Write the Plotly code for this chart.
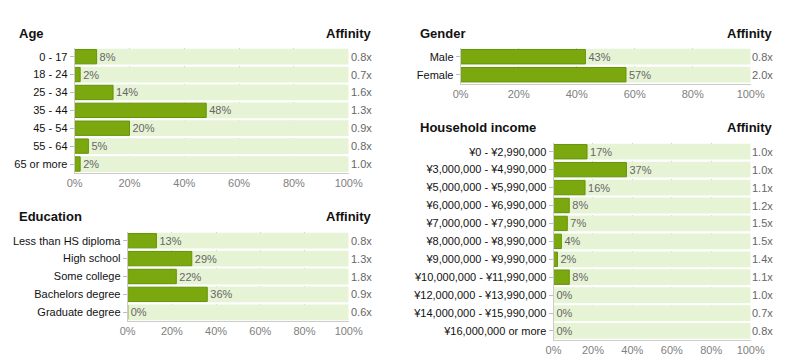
import plotly.graph_objects as go

# ---- data ----
age_cats = ["0 - 17", "18 - 24", "25 - 34", "35 - 44", "45 - 54", "55 - 64", "65 or more"]
age_pct = [8, 2, 14, 48, 20, 5, 2]
age_aff = ["0.8x", "0.7x", "1.6x", "1.3x", "0.9x", "0.8x", "1.0x"]

gender_cats = ["Male", "Female"]
gender_pct = [43, 57]
gender_aff = ["0.8x", "2.0x"]

edu_cats = ["Less than HS diploma", "High school", "Some college", "Bachelors degree", "Graduate degree"]
edu_pct = [13, 29, 22, 36, 0]
edu_aff = ["0.8x", "1.3x", "1.8x", "0.9x", "0.6x"]

inc_cats = ["¥0 - ¥2,990,000", "¥3,000,000 - ¥4,990,000", "¥5,000,000 - ¥5,990,000",
            "¥6,000,000 - ¥6,990,000", "¥7,000,000 - ¥7,990,000", "¥8,000,000 - ¥8,990,000",
            "¥9,000,000 - ¥9,990,000", "¥10,000,000 - ¥11,990,000", "¥12,000,000 - ¥13,990,000",
            "¥14,000,000 - ¥15,990,000", "¥16,000,000 or more"]
inc_pct = [17, 37, 16, 8, 7, 4, 2, 8, 0, 0, 0]
inc_aff = ["1.0x", "1.0x", "1.1x", "1.2x", "1.5x", "1.5x", "1.4x", "1.1x", "1.0x", "0.7x", "0.8x"]

tick_vals = [0, 20, 40, 60, 80, 100]
tick_text = ["0%", "20%", "40%", "60%", "80%", "100%"]

W, H = 800, 363
FONT = "Liberation Sans, Arial, sans-serif"
DARK = "#7aa80e"
DARK_LINE = "#66940a"
LIGHT = "#e6f3d5"

panels = [
    # title, cats, pct, aff, x0px, x1px, topPx, bottomPx, titleY, affX
    ("Age", age_cats, age_pct, age_aff, 74.7, 348.7, 47.75, 172.95, 33, 374),
    ("Gender", gender_cats, gender_pct, gender_aff, 460.7, 750.7, 47.7, 83.7, 33, 775),
    ("Education", edu_cats, edu_pct, edu_aff, 127.7, 348.7, 231.75, 321.25, 216, 374),
    ("Household income", inc_cats, inc_pct, inc_aff, 553.5, 750.7, 142.75, 339.95, 127, 775),
]
title_x = {"Age": 17, "Gender": 418, "Education": 17, "Household income": 418}

fig = go.Figure()
layout = dict(
    width=W, height=H, margin=dict(l=0, r=0, t=0, b=0, pad=0), autosize=False,
    paper_bgcolor="white", plot_bgcolor="white",
    showlegend=False, barmode="overlay", font=dict(family=FONT),
)
annotations = []
for i, (title, cats, pct, aff, x0, x1, top, bot, ty, ax) in enumerate(panels):
    n = i + 1
    xa = "x" if n == 1 else f"x{n}"
    ya = "y" if n == 1 else f"y{n}"
    xk = "xaxis" if n == 1 else f"xaxis{n}"
    yk = "yaxis" if n == 1 else f"yaxis{n}"
    fig.add_trace(go.Bar(
        x=[100] * len(cats), y=cats, orientation="h", xaxis=xa, yaxis=ya,
        marker=dict(color=LIGHT, line=dict(width=0)), width=0.88, hoverinfo="skip"))
    fig.add_trace(go.Bar(
        x=pct, y=cats, orientation="h", xaxis=xa, yaxis=ya,
        marker=dict(color=DARK, line=dict(color=DARK_LINE, width=1)), width=0.8,
        text=[f"{v}%" for v in pct], textposition="outside", cliponaxis=False,
        textfont=dict(color="#666666", size=11, family=FONT)))
    layout[xk] = dict(
        domain=[x0 / W, x1 / W], range=[0, 100], anchor=ya, automargin=False,
        tickvals=tick_vals, ticktext=tick_text, tickfont=dict(size=11, color="#808080"),
        showgrid=True, gridcolor="#cccccc", griddash="dot", gridwidth=1,
        showline=True, linecolor="#cccccc", linewidth=1, zeroline=False,
        ticks="", fixedrange=True)
    layout[yk] = dict(
        domain=[1 - bot / H, 1 - top / H], anchor=xa, type="category", automargin=False,
        categoryorder="array", categoryarray=cats, range=[len(cats) - 0.5, -0.5],
        tickfont=dict(size=11, color="#111111"), ticks="outside", ticklen=4,
        tickcolor="#bbbbbb", showline=True, linecolor="#cccccc", linewidth=1,
        showgrid=False, zeroline=False, fixedrange=True)
    annotations.append(dict(text=f"<b>{title}</b>", x=title_x[title] / W, y=1 - ty / H,
                            xref="paper", yref="paper", xanchor="left", yanchor="middle",
                            showarrow=False, font=dict(size=13, color="#111111", family=FONT)))
    annotations.append(dict(text="<b>Affinity</b>", x=ax / W, y=1 - ty / H,
                            xref="paper", yref="paper", xanchor="right", yanchor="middle",
                            showarrow=False, font=dict(size=13, color="#111111", family=FONT)))
    for c, a in zip(cats, aff):
        annotations.append(dict(text=a, x=ax / W, y=c, xref="paper", yref=ya,
                                xanchor="right", yanchor="middle", showarrow=False,
                                font=dict(size=11, color="#666666", family=FONT)))
layout["annotations"] = annotations
fig.update_layout(**layout)
fig.write_html("out.html", config={"displayModeBar": False},
               post_script="document.body.style.margin='0';")
